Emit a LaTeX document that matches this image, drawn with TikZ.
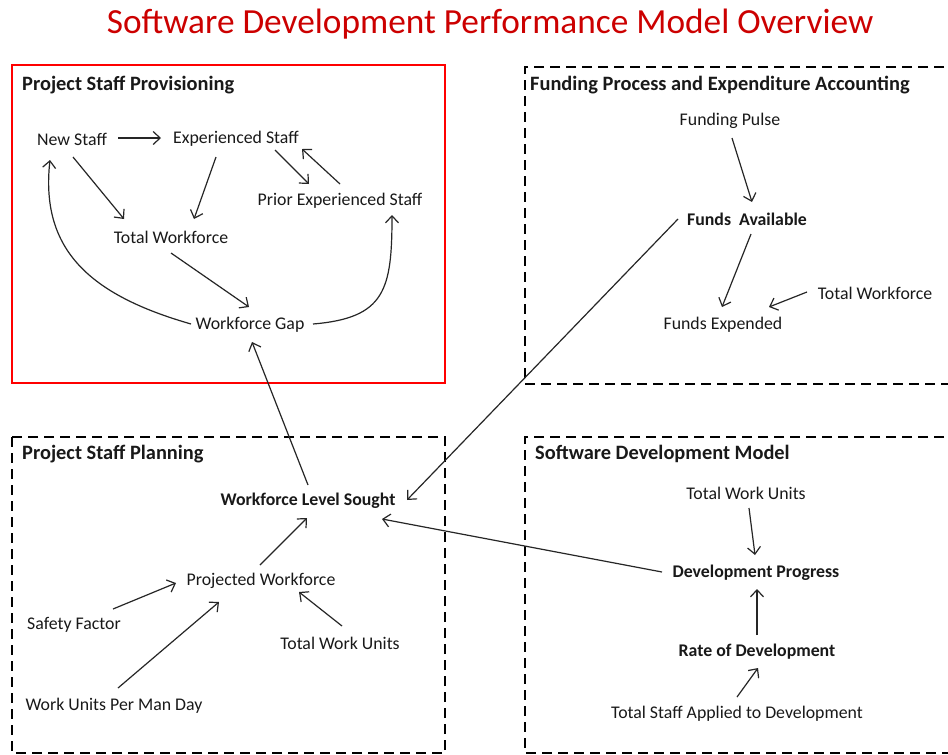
\documentclass[tikz,border=0pt]{standalone}
\usepackage{fontspec}
\setmainfont{Carlito}
\usetikzlibrary{arrows.meta,calc}
\tikzset{
  lbl/.style={inner sep=0pt, font=\fontsize{17.8}{20}\selectfont, text=black!90},
  blbl/.style={lbl, font=\fontsize{17.8}{20}\selectfont\bfseries},
  hdr/.style={inner sep=0pt, anchor=west, font=\fontsize{20.4}{22}\selectfont\bfseries, text=black!90},
  conn/.style={draw=black!85, line width=1.2pt, -{Straight Barb[length=7pt,width=13pt,line width=1.2pt]}},
  dashbox/.style={draw=black, line width=2.6pt, dash pattern=on 10pt off 6pt},
  redbox/.style={draw=red, line width=2.4pt}
}
\begin{document}
\begin{tikzpicture}[x=1pt,y=-1pt]
\useasboundingbox (0,0) rectangle (948,755);
\fill[white] (0,0) rectangle (948,755);
% title
\node[inner sep=0pt, text=red!80!black, font=\fontsize{35.3}{40}\selectfont] (title) at (490,24) {Software Development Performance Model Overview};
% boxes
\draw[redbox] (12,65) rectangle (445,383);
\draw[dashbox] (960,67) -- (525,67) -- (525,384) -- (960,384);
\draw[dashbox] (12,437) rectangle (445,753);
\draw[dashbox] (960,437) -- (525,437) -- (525,753) -- (960,753);
% headers
\node[hdr] (h1) at (22,85) {Project Staff Provisioning};
\node[hdr] (h2) at (530,85) {Funding Process and Expenditure Accounting};
\node[hdr] (h3) at (22,454) {Project Staff Planning};
\node[hdr] (h4) at (535,454) {Software Development Model};
% provisioning
\node[lbl] (ns) at (72,139) {New Staff};
\node[lbl] (es) at (236,139) {Experienced Staff};
\node[lbl] (pes) at (340,201) {Prior Experienced Staff};
\node[lbl] (tw) at (171,237) {Total Workforce};
\node[lbl] (wg) at (250,325) {Workforce Gap};
% funding
\node[lbl] (fp) at (730,121) {Funding Pulse};
\node[blbl] (fa) at (747,219) {Funds\ \ Available};
\node[lbl] (fe) at (723,325) {Funds Expended};
\node[lbl] (tw2) at (875,293) {Total Workforce};
% planning
\node[blbl] (wls) at (308,501) {Workforce Level Sought};
\node[lbl] (pw) at (261,581) {Projected Workforce};
\node[lbl] (sf) at (74,625) {Safety Factor};
\node[lbl] (twu) at (340,643) {Total Work Units};
\node[lbl] (wu) at (114,706) {Work Units Per Man Day};
% software dev
\node[lbl] (twu2) at (746,493) {Total Work Units};
\node[blbl] (dp) at (756,573) {Development Progress};
\node[blbl] (rod) at (757,652) {Rate of Development};
\node[lbl] (tsad) at (737,714) {Total Staff Applied to Development};
% connectors
\draw[conn] ($(ns)+(46,-1)$) -- ($(es)+(-75,-1)$);
\draw[conn] ($(ns)+(1,18)$) -- ($(tw)+(-47,-18)$);
\draw[conn] ($(es)+(-20,18)$) -- ($(tw)+(23,-18)$);
\draw[conn] ($(es)+(39,11)$) -- ($(pes)+(-31,-17)$);
\draw[conn] ($(pes)+(0,-17)$) -- ($(es)+(66,10)$);
\draw[conn] ($(tw)+(0,16)$) -- ($(wg)+(-1,-18)$);
\draw[conn] ($(wg)+(-59,-1)$) .. controls (90,295) and (40,250) .. ($(ns)+(-22,21)$);
\draw[conn] ($(wg)+(63,-1)$) .. controls (385,318) and (392,290) .. ($(pes)+(52,14)$);
\draw[conn] ($(wls)+(0,-16)$) -- ($(wg)+(2,17)$);
\draw[conn] ($(fp)+(2,17)$) -- ($(fa)+(5,-17)$);
\draw[conn] ($(fa)+(4,15)$) -- ($(fe)+(-1,-18)$);
\draw[conn] ($(tw2)+(-68,-1)$) -- ($(fe)+(46,-18)$);
\draw[conn] ($(fa)+(-69,0)$) -- ($(wls)+(99,-1)$);
\draw[conn] ($(pw)+(-1,-16)$) -- ($(wls)+(-1,17)$);
\draw[conn] ($(sf)+(39,-16)$) -- ($(pw)+(-85,2)$);
\draw[conn] ($(wu)+(4,-18)$) -- ($(pw)+(-42,21)$);
\draw[conn] ($(twu)+(2,-17)$) -- ($(pw)+(38,11)$);
\draw[conn] ($(dp)+(-94,-1)$) -- ($(wls)+(74,18)$);
\draw[conn] ($(twu2)+(3,15)$) -- ($(dp)+(-1,-18)$);
\draw[conn] ($(rod)+(0,-17)$) -- ($(dp)+(1,16)$);
\draw[conn] ($(tsad)+(0,-17)$) -- ($(rod)+(1,16)$);
\end{tikzpicture}
\end{document}
